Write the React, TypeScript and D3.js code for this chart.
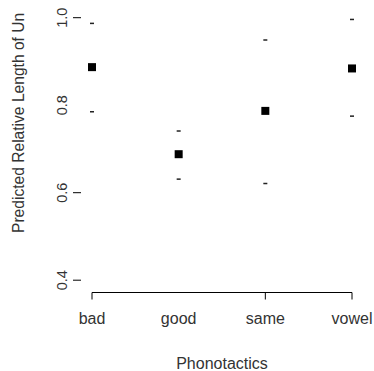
import React from "react";
import * as d3 from "d3";

// categories and estimates
const categories = ["bad", "good", "same", "vowel"];
const fitValues = [0.887, 0.688, 0.787, 0.884];
const upperValues = [0.987, 0.741, 0.949, 0.996];
const lowerValues = [0.785, 0.631, 0.621, 0.775];

const yTickLabels = [0.4, 0.6, 0.8, 1.0];
// tick marks that actually show in the reference
const yTickMarks = [0.4, 0.6, 1.0];
const xTickMarks = ["bad", "same", "vowel"];

const W = 374;
const H = 371;
const FONT = "'Liberation Sans', Arial, Helvetica, sans-serif";
const TEXT = "#333";

export default function App() {
  const x = d3.scalePoint<string>().domain(categories).range([92, 352]);
  const y = d3.scaleLinear().domain([0.4, 1.0]).range([280.2, 17.7]);

  const axisY = 292.5;
  const [x0, x1] = x.range();

  return (
    <div style={{ position: "fixed", left: 0, top: 0 }}>
      <svg width={W} height={H} style={{ display: "block", background: "#fff" }}>
        {/* y axis: ticks only */}
        {yTickMarks.map(v => (
          <line key={"yt" + v} x1={73} x2={81} y1={y(v)} y2={y(v)} stroke="#000" strokeWidth={1} />
        ))}
        {yTickLabels.map(v => (
          <text
            key={"yl" + v}
            transform={`translate(67,${y(v)}) rotate(-90)`}
            textAnchor="middle"
            fontFamily={FONT}
            fontSize={14.5}
            fill={TEXT}
          >
            {v.toFixed(1)}
          </text>
        ))}
        <text
          transform={`translate(24,233) rotate(-90)`}
          textAnchor="start"
          fontFamily={FONT}
          fontSize={15.6}
          fill={TEXT}
        >
          Predicted Relative Length of Un
        </text>

        {/* x axis */}
        <line x1={x0} x2={x1} y1={axisY} y2={axisY} stroke="#000" strokeWidth={1} />
        {xTickMarks.map(c => (
          <line key={"xt" + c} x1={x(c)} x2={x(c)} y1={axisY} y2={axisY + 7} stroke="#000" strokeWidth={1} />
        ))}
        {categories.map(c => (
          <text
            key={"xl" + c}
            x={x(c)}
            y={323.5}
            textAnchor="middle"
            fontFamily={FONT}
            fontSize={16}
            fill={TEXT}
          >
            {c}
          </text>
        ))}
        <text x={(x0 + x1) / 2} y={368.5} textAnchor="middle" fontFamily={FONT} fontSize={16} fill={TEXT}>
          Phonotactics
        </text>

        {/* interval ends */}
        {categories.map((c, i) => (
          <g key={"ci" + c}>
            <rect x={x(c)! - 2} y={y(upperValues[i]) - 0.75} width={4} height={1.5} fill="#222" />
            <rect x={x(c)! - 2} y={y(lowerValues[i]) - 0.75} width={4} height={1.5} fill="#222" />
          </g>
        ))}

        {/* point estimates */}
        {categories.map((c, i) => (
          <rect key={"pt" + c} x={x(c)! - 4} y={y(fitValues[i]) - 4} width={8} height={8} fill="#000" />
        ))}
      </svg>
    </div>
  );
}
